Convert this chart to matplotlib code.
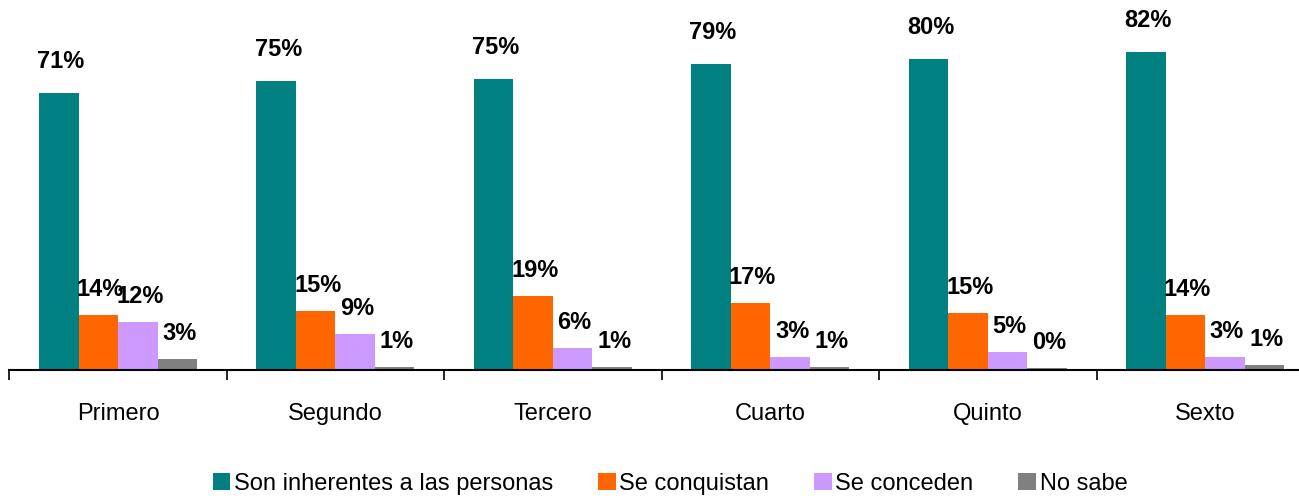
import matplotlib
matplotlib.use("Agg")
import matplotlib.pyplot as plt
import numpy as np

categories = ["Primero", "Segundo", "Tercero", "Cuarto", "Quinto", "Sexto"]
series_names = ["Son inherentes a las personas", "Se conquistan", "Se conceden", "No sabe"]
inherentes = [71.3, 74.6, 75.0, 78.8, 80.2, 82.0]
conquistan = [14.2, 15.2, 19.1, 17.3, 14.7, 14.2]
conceden = [12.4, 9.4, 5.7, 3.4, 4.6, 3.4]
no_sabe = [2.8, 0.8, 0.8, 0.8, 0.45, 1.3]
series_values = [inherentes, conquistan, conceden, no_sabe]
colors = ["#008080", "#FF6600", "#CC99FF", "#808080"]
label_gap_px = [25, 19, 19, 19]

plt.rcParams['font.family'] = ['Liberation Sans', 'DejaVu Sans']

W, H = 1299, 499
fig = plt.figure(figsize=(W / 100, H / 100), dpi=100)
left = 9.3 / W
right = 1314.0 / W
bottom = 129.0 / H
height = 349.2 / H
ax = fig.add_axes([left, bottom, right - left, height])

n = len(series_values)
bw = 0.1817
x = np.arange(len(categories))
for i, (vals, c, name) in enumerate(zip(series_values, colors, series_names)):
    pos = x + (i - (n - 1) / 2) * bw
    ax.bar(pos, vals, width=bw, color=c, label=name, linewidth=0)
    for px, v in zip(pos, vals):
        ax.annotate(f"{round(v):d}%", (px, v), xytext=(2, label_gap_px[i]),
                    textcoords='offset pixels', ha='center', va='baseline',
                    fontsize=17, fontweight='bold', color='black')

ax.set_xlim(-0.5, len(categories) - 0.5)
ax.set_ylim(0, 90)
for s in ['top', 'right', 'left']:
    ax.spines[s].set_visible(False)
ax.spines['bottom'].set_linewidth(1.5)
ax.set_yticks([])
ax.set_xticks(x)
ax.set_xticklabels(categories, fontsize=17)
ax.tick_params(axis='x', which='major', length=0, pad=24)
ax.set_xticks(np.arange(-0.5, len(categories)), minor=True)
ax.tick_params(axis='x', which='minor', length=7, width=1.2, direction='out')

leg = ax.legend(loc='center', bbox_to_anchor=(670 / W, 1 - 484 / H),
                bbox_transform=fig.transFigure, ncol=4, frameon=False,
                fontsize=17, handlelength=0.75, handleheight=0.75,
                handletextpad=0.15, columnspacing=1.9, borderaxespad=0)

fig.savefig("out.png", dpi=100)
